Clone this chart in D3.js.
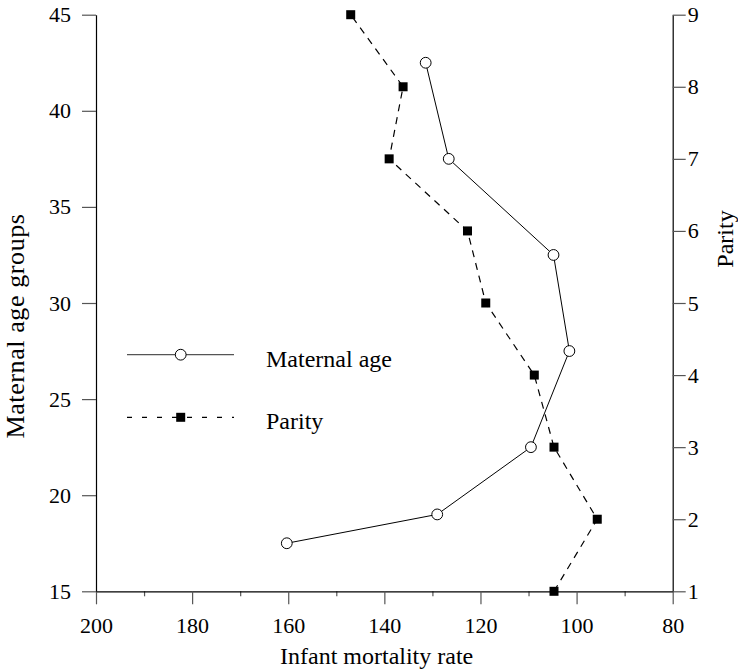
<!DOCTYPE html>
<html>
<head>
<meta charset="utf-8">
<script src="https://cdn.jsdelivr.net/npm/d3@7"></script>
<style>
  html, body { margin: 0; padding: 0; background: #fff; }
  svg { display: block; }
  text { font-family: "Liberation Serif", "Times New Roman", serif; fill: #000; }
</style>
</head>
<body>
<svg id="chart" width="738" height="670"></svg>
<script>
// ---- data ----
const ageRate   = [160.3, 129.0, 109.5, 101.5, 104.8, 126.6, 131.4];
const ageGroup  = [17.5, 19, 22.5, 27.5, 32.5, 37.5, 42.5];
const parityRate = [104.7, 95.7, 104.7, 108.8, 118.9, 122.7, 139.0, 136.1, 147.0];
const parityVal  = [1, 2, 3, 4, 5, 6, 7, 8, 9];
const xTicks = [200, 180, 160, 140, 120, 100, 80];
const xMinorTicks = [190, 170, 150, 130, 110, 90];
const leftTicks = [15, 20, 25, 30, 35, 40, 45];
const rightTicks = [1, 2, 3, 4, 5, 6, 7, 8, 9];
const legendLabels = ["Maternal age", "Parity"];
const xTitle = "Infant mortality rate";
const leftTitle = "Maternal age groups";
const rightTitle = "Parity";

// ---- layout ----
const L = 96, R = 672.7, T = 14.7, B = 591.3;
const svg = d3.select("#chart");

const x = d3.scaleLinear().domain([200, 80]).range([L, R]);
const yL = d3.scaleLinear().domain([15, 45]).range([B, T]);
const yR = d3.scaleLinear().domain([1, 9]).range([B, T]);

function styleAxis(g, size) {
  g.selectAll("path.domain").attr("stroke", "#000").attr("stroke-width", 1.2);
  g.selectAll(".tick line").attr("stroke", "#555").attr("stroke-width", 1.2);
  g.selectAll(".tick text").attr("font-size", size)
    .attr("font-family", '"Liberation Serif", "Times New Roman", serif').attr("fill", "#000");
}

// minor bottom ticks
const gMinor = svg.append("g").attr("transform", `translate(0,${B})`)
  .call(d3.axisBottom(x).tickValues(xMinorTicks).tickSize(5).tickSizeOuter(0).tickFormat(""));
gMinor.select("path.domain").remove();
styleAxis(gMinor, 22);

// bottom axis
const gB = svg.append("g").attr("transform", `translate(0,${B})`)
  .call(d3.axisBottom(x).tickValues(xTicks).tickSize(13).tickSizeOuter(0).tickPadding(13).tickFormat(d3.format("d")));
styleAxis(gB, 22);

// left axis
const gL = svg.append("g").attr("transform", `translate(${L},0)`)
  .call(d3.axisLeft(yL).tickValues(leftTicks).tickSize(14).tickSizeOuter(0).tickPadding(11).tickFormat(d3.format("d")));
styleAxis(gL, 22);

// right axis
const gR = svg.append("g").attr("transform", `translate(${R},0)`)
  .call(d3.axisRight(yR).tickValues(rightTicks).tickSize(13).tickSizeOuter(0).tickPadding(2).tickFormat(d3.format("d")));
styleAxis(gR, 22);

// titles
svg.append("text").attr("x", 280).attr("y", 664).attr("font-size", 24).text(xTitle);
svg.append("text").attr("transform", "translate(24,326) rotate(-90)")
  .attr("text-anchor", "middle").attr("font-size", 26).attr("letter-spacing", 0.6).text(leftTitle);
svg.append("text").attr("transform", "translate(733,239) rotate(-90)")
  .attr("text-anchor", "middle").attr("font-size", 24).text(rightTitle);

// lines
const ageData = ageRate.map((v, i) => [v, ageGroup[i]]);
const parData = parityRate.map((v, i) => [v, parityVal[i]]);

svg.append("path")
  .attr("d", d3.line().x(d => x(d[0])).y(d => yL(d[1]))(ageData))
  .attr("fill", "none").attr("stroke", "#000").attr("stroke-width", 1);
svg.append("path")
  .attr("d", d3.line().x(d => x(d[0])).y(d => yR(d[1]))(parData))
  .attr("fill", "none").attr("stroke", "#000").attr("stroke-width", 1.2)
  .attr("stroke-dasharray", "7,6");

svg.selectAll("circle.age").data(ageData).join("circle")
  .attr("class", "age")
  .attr("cx", d => x(d[0])).attr("cy", d => yL(d[1])).attr("r", 5.4)
  .attr("fill", "#fff").attr("stroke", "#000").attr("stroke-width", 1);

const sq = 9;
svg.selectAll("rect.par").data(parData).join("rect")
  .attr("class", "par")
  .attr("x", d => x(d[0]) - sq / 2).attr("y", d => yR(d[1]) - sq / 2)
  .attr("width", sq).attr("height", sq).attr("fill", "#000");

// legend
const lx0 = 127, lx1 = 234, lmid = 180.7;
const legY = [354.7, 417.3];
const lg = svg.append("g");
lg.append("line").attr("x1", lx0).attr("x2", lx1).attr("y1", legY[0]).attr("y2", legY[0])
  .attr("stroke", "#555").attr("stroke-width", 1.2);
lg.append("circle").attr("cx", lmid).attr("cy", legY[0]).attr("r", 5.4)
  .attr("fill", "#fff").attr("stroke", "#000");
lg.append("line").attr("x1", lx0).attr("x2", lx1).attr("y1", legY[1]).attr("y2", legY[1])
  .attr("stroke", "#000").attr("stroke-width", 1.2).attr("stroke-dasharray", "5,10");
lg.append("rect").attr("x", lmid - sq / 2).attr("y", legY[1] - sq / 2)
  .attr("width", sq).attr("height", sq).attr("fill", "#000");
lg.selectAll("text").data(legendLabels).join("text")
  .attr("x", 266).attr("y", (d, i) => legY[i] + 12)
  .attr("font-size", 24).text(d => d);
</script>
</body>
</html>
